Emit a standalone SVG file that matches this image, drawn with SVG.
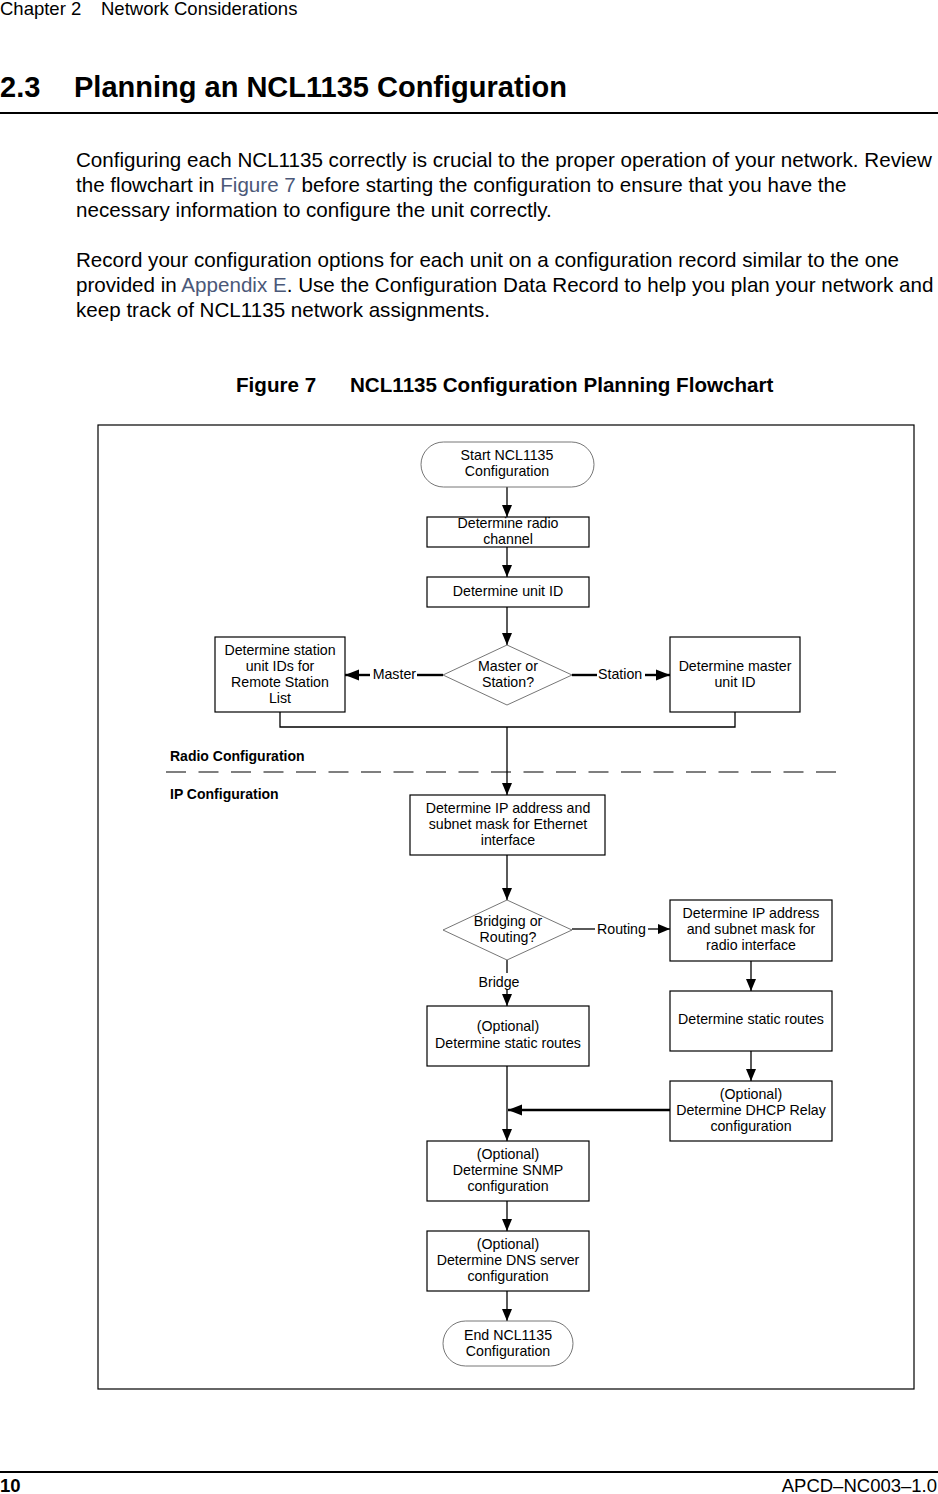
<svg xmlns="http://www.w3.org/2000/svg" width="938" height="1494" viewBox="0 0 938 1494">
<style>
text{font-family:"Liberation Sans",Arial,sans-serif;fill:#000}
.hd{font-size:18.5px}
.ttl{font-size:29px;font-weight:bold}
.body{font-size:20.6px}
.lnk{fill:#4b5878}
.cap{font-size:20.6px;font-weight:bold}
.n{font-size:14.2px;text-anchor:middle}
.lbl{font-size:14.2px}
.sec{font-size:14px;font-weight:bold}
.box{fill:#fff;stroke:#000;stroke-width:1.2}
.term{fill:#fff;stroke:#666;stroke-width:0.9}
.dia{fill:#fff;stroke:#666;stroke-width:0.9}
.c{fill:none;stroke:#000;stroke-width:1.3}
.ct{fill:none;stroke:#000;stroke-width:2.4}
</style>
<defs>
<marker id="ah" markerUnits="userSpaceOnUse" markerWidth="12" markerHeight="12" refX="12" refY="6" orient="auto">
<path d="M0,1 L12,6 L0,11 z" fill="#000"/>
</marker>
<marker id="ahb" markerUnits="userSpaceOnUse" markerWidth="14" markerHeight="14" refX="14" refY="7" orient="auto">
<path d="M0,1.5 L14,7 L0,12.5 z" fill="#000"/>
</marker>
</defs>
<rect width="938" height="1494" fill="#fff"/>
<g id="page">
<text class="hd" x="0" y="15">Chapter 2</text>
<text class="hd" x="101" y="15">Network Considerations</text>
<text class="ttl" x="0" y="97">2.3</text>
<text class="ttl" x="74" y="97">Planning an NCL1135 Configuration</text>
<rect x="0" y="112" width="938" height="2" fill="#000"/>
<text class="body" x="76" y="167">Configuring each NCL1135 correctly is crucial to the proper operation of your network. Review</text>
<text class="body" x="76" y="192">the flowchart in <tspan class="lnk">Figure 7</tspan> before starting the configuration to ensure that you have the</text>
<text class="body" x="76" y="217">necessary information to configure the unit correctly.</text>
<text class="body" x="76" y="267">Record your configuration options for each unit on a configuration record similar to the one</text>
<text class="body" x="76" y="292">provided in <tspan class="lnk">Appendix E</tspan>. Use the Configuration Data Record to help you plan your network and</text>
<text class="body" x="76" y="317">keep track of NCL1135 network assignments.</text>
<text class="cap" x="236" y="392">Figure 7</text>
<text class="cap" x="350" y="392">NCL1135 Configuration Planning Flowchart</text>
<rect x="0" y="1471" width="938" height="2" fill="#000"/>
<text class="hd" x="0" y="1492" font-weight="bold">10</text>
<text class="hd" x="937" y="1492" text-anchor="end">APCD–NC003–1.0</text>
<rect x="98" y="425" width="816" height="964" fill="none" stroke="#000" stroke-width="1.2"/>
</g>
<g id="connectors">
<path class="c" d="M507,487 V517" marker-end="url(#ah)"/>
<path class="c" d="M507,547 V577" marker-end="url(#ah)"/>
<path class="c" d="M507,607 V645" marker-end="url(#ah)"/>
<path class="ct" d="M443,675 H417"/>
<path class="ct" d="M370,675 H345" marker-end="url(#ahb)"/>
<path class="ct" d="M572,675 H597"/>
<path class="ct" d="M645,675 H670" marker-end="url(#ahb)"/>
<path class="c" d="M280,712 V727 H735 V712"/>
<path class="c" d="M507,727 V795" marker-end="url(#ah)"/>
<path d="M166,772 H838" stroke="#000" stroke-width="1.2" stroke-dasharray="20 12.5"/>
<path class="c" d="M507,855 V900" marker-end="url(#ah)"/>
<path class="c" d="M572,929 H595"/>
<path class="c" d="M648,929 H670" marker-end="url(#ah)"/>
<path class="c" d="M751,961 V991" marker-end="url(#ah)"/>
<path class="c" d="M751,1051 V1081" marker-end="url(#ah)"/>
<path class="ct" d="M670,1110 H508" marker-end="url(#ahb)"/>
<path class="c" d="M507,960 V973"/>
<path class="c" d="M507,990 V1006" marker-end="url(#ah)"/>
<path class="c" d="M507,1066 V1141" marker-end="url(#ah)"/>
<path class="c" d="M507,1201 V1231" marker-end="url(#ah)"/>
<path class="c" d="M507,1291 V1321" marker-end="url(#ah)"/>
<text class="lbl" x="416" y="679" text-anchor="end">Master</text>
<text class="lbl" x="598" y="679">Station</text>
<text class="lbl" x="597" y="934">Routing</text>
<text class="lbl" x="499" y="987" text-anchor="middle">Bridge</text>
</g>
<g id="sections">
<text class="sec" x="170" y="761">Radio Configuration</text>
<text class="sec" x="170" y="799">IP Configuration</text>
</g>
<g id="start">
<rect class="term" x="421" y="442" width="173" height="45" rx="22.5"/>
<text class="n" x="507" y="460">Start NCL1135</text>
<text class="n" x="507" y="476">Configuration</text>
</g>
<g id="radio-channel">
<rect class="box" x="427" y="517" width="162" height="30"/>
<text class="n" x="508" y="528">Determine radio</text>
<text class="n" x="508" y="544">channel</text>
</g>
<g id="unit-id">
<rect class="box" x="427" y="577" width="162" height="30"/>
<text class="n" x="508" y="596">Determine unit ID</text>
</g>
<g id="master-or-station">
<path class="dia" d="M507,645 L572,675 L507,705 L443,675 z"/>
<text class="n" x="508" y="671">Master or</text>
<text class="n" x="508" y="687">Station?</text>
</g>
<g id="station-ids">
<rect class="box" x="215" y="637" width="130" height="75"/>
<text class="n" x="280" y="655">Determine station</text>
<text class="n" x="280" y="671">unit IDs for</text>
<text class="n" x="280" y="687">Remote Station</text>
<text class="n" x="280" y="703">List</text>
</g>
<g id="master-id">
<rect class="box" x="670" y="637" width="130" height="75"/>
<text class="n" x="735" y="671">Determine master</text>
<text class="n" x="735" y="687">unit ID</text>
</g>
<g id="ethernet">
<rect class="box" x="410" y="795" width="195" height="60"/>
<text class="n" x="508" y="813">Determine IP address and</text>
<text class="n" x="508" y="829">subnet mask for Ethernet</text>
<text class="n" x="508" y="845">interface</text>
</g>
<g id="bridging-or-routing">
<path class="dia" d="M507,900 L572,930 L507,960 L443,930 z"/>
<text class="n" x="508" y="926">Bridging or</text>
<text class="n" x="508" y="942">Routing?</text>
</g>
<g id="radio-iface">
<rect class="box" x="670" y="900" width="162" height="61"/>
<text class="n" x="751" y="918">Determine IP address</text>
<text class="n" x="751" y="934">and subnet mask for</text>
<text class="n" x="751" y="950">radio interface</text>
</g>
<g id="static-routes">
<rect class="box" x="670" y="991" width="162" height="60"/>
<text class="n" x="751" y="1024">Determine static routes</text>
</g>
<g id="dhcp">
<rect class="box" x="670" y="1081" width="162" height="60"/>
<text class="n" x="751" y="1099">(Optional)</text>
<text class="n" x="751" y="1115">Determine DHCP Relay</text>
<text class="n" x="751" y="1131">configuration</text>
</g>
<g id="opt-static">
<rect class="box" x="427" y="1006" width="162" height="60"/>
<text class="n" x="508" y="1031">(Optional)</text>
<text class="n" x="508" y="1048">Determine static routes</text>
</g>
<g id="snmp">
<rect class="box" x="427" y="1141" width="162" height="60"/>
<text class="n" x="508" y="1159">(Optional)</text>
<text class="n" x="508" y="1175">Determine SNMP</text>
<text class="n" x="508" y="1191">configuration</text>
</g>
<g id="dns">
<rect class="box" x="427" y="1231" width="162" height="60"/>
<text class="n" x="508" y="1249">(Optional)</text>
<text class="n" x="508" y="1265">Determine DNS server</text>
<text class="n" x="508" y="1281">configuration</text>
</g>
<g id="end">
<rect class="term" x="443" y="1321" width="130" height="45" rx="22.5"/>
<text class="n" x="508" y="1340">End NCL1135</text>
<text class="n" x="508" y="1356">Configuration</text>
</g>
</svg>
